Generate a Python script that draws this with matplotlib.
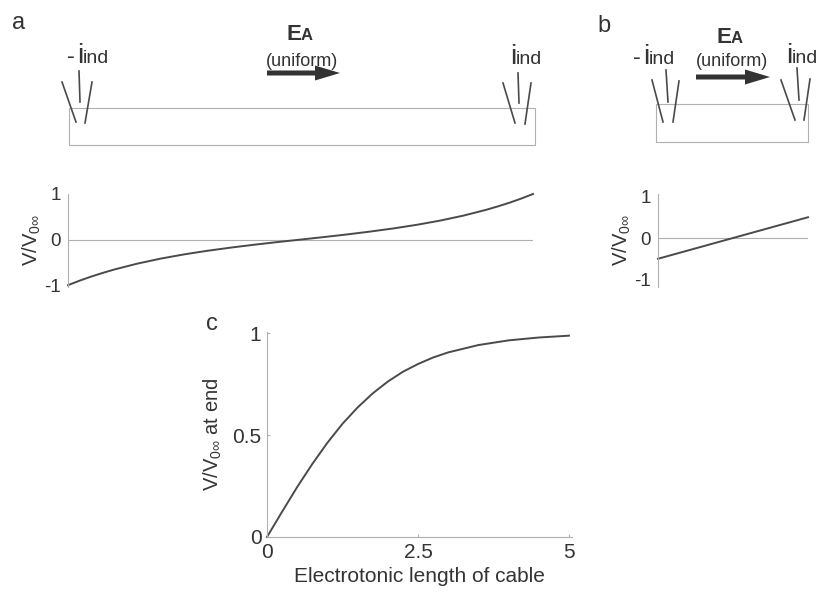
import matplotlib
matplotlib.use("Agg")
import matplotlib.pyplot as plt
from matplotlib.patches import FancyArrow, Rectangle

plt.rcParams['font.family'] = ['Liberation Sans', 'DejaVu Sans']
plt.rcParams['mathtext.fontset'] = 'custom'
plt.rcParams['mathtext.rm'] = 'Liberation Sans'
plt.rcParams['mathtext.it'] = 'Liberation Sans'

# potential along the cable (position as fraction of cable length)
pos_a = [0, 0.025, 0.05, 0.075, 0.1, 0.15, 0.2, 0.25, 0.3, 0.35, 0.4, 0.45, 0.5,
         0.55, 0.6, 0.65, 0.7, 0.75, 0.8, 0.85, 0.9, 0.925, 0.95, 0.975, 1.0]
v_a = [-1.0, -0.901, -0.811, -0.730, -0.655, -0.525, -0.416, -0.324, -0.245, -0.176,
       -0.113, -0.055, 0.0, 0.055, 0.113, 0.176, 0.245, 0.324, 0.416, 0.525, 0.655,
       0.730, 0.811, 0.901, 1.0]

pos_b = [0, 0.25, 0.5, 0.75, 1.0]
v_b = [-0.5, -0.25, 0.0, 0.25, 0.5]

# end potential vs electrotonic length
len_c = [0, 0.25, 0.5, 0.75, 1, 1.25, 1.5, 1.75, 2, 2.25, 2.5, 2.75, 3, 3.5, 4, 4.5, 5]
v_c = [0, 0.124, 0.245, 0.358, 0.462, 0.555, 0.635, 0.704, 0.762, 0.810, 0.848,
       0.880, 0.905, 0.941, 0.964, 0.978, 0.987]

W, H = 822, 592
TXT = '#333333'
LINE = '#4a4a4a'
THIN = '#b0b0b0'
ylab = r'V/V$_{0\infty}$'

fig = plt.figure(figsize=(W / 100, H / 100), dpi=100)


def px_axes(left, top, right, bottom):
    return fig.add_axes([left / W, 1 - bottom / H, (right - left) / W, (bottom - top) / H])


def style(ax):
    for s in ['top', 'right', 'bottom']:
        ax.spines[s].set_visible(False)
    ax.spines['left'].set_color(THIN)
    ax.spines['left'].set_linewidth(0.8)
    ax.tick_params(colors=TXT, labelsize=13.5, length=0, pad=5)
    ax.set_xticks([])


# panel a trace
ax_a = px_axes(68, 194, 533, 287)
style(ax_a)
ax_a.axhline(0, color=THIN, lw=0.8)
ax_a.plot(pos_a, v_a, color=LINE, lw=1.4, clip_on=False)
ax_a.set_xlim(0, 1)
ax_a.set_ylim(-1.04, 1.0)
ax_a.set_yticks([-1, 0, 1])
ax_a.set_yticklabels(['-1', '0', '1'])
ax_a.set_ylabel(ylab, fontsize=14.5, color=TXT, labelpad=1)

# panel b trace
ax_b = px_axes(658, 194, 808, 287)
style(ax_b)
ax_b.axhline(0, color=THIN, lw=0.8)
ax_b.plot(pos_b, v_b, color=LINE, lw=1.4, clip_on=False)
ax_b.set_xlim(0, 1)
ax_b.set_ylim(-1.18, 1.06)
ax_b.set_yticks([-1, 0, 1])
ax_b.set_yticklabels(['-1', '0', '1'])
ax_b.set_ylabel(ylab, fontsize=14.5, color=TXT, labelpad=1)

# panel c
ax_c = px_axes(267, 332, 572, 537)
for s in ['top', 'right']:
    ax_c.spines[s].set_visible(False)
for s in ['left', 'bottom']:
    ax_c.spines[s].set_color(THIN)
    ax_c.spines[s].set_linewidth(0.8)
ax_c.plot(len_c, v_c, color=LINE, lw=1.4, clip_on=False)
ax_c.set_xlim(0, 5.05)
ax_c.set_ylim(0, 1.005)
ax_c.set_xticks([0, 2.5, 5])
ax_c.set_xticklabels(['0', '2.5', '5'])
ax_c.set_yticks([0, 0.5, 1])
ax_c.set_yticklabels(['0', '0.5', '1'])
ax_c.tick_params(colors=TXT, labelsize=15, direction='in', length=2, width=0.8, pad=4)
ax_c.tick_params(axis='x', pad=4)
ax_c.tick_params(color=THIN, which='both')
ax_c.set_xlabel('Electrotonic length of cable', fontsize=15, color=TXT, labelpad=4)
ax_c.set_ylabel(r'V/V$_{0\infty}$ at end', fontsize=14.5, color=TXT, labelpad=6)

# schematic overlay in pixel units
ov = fig.add_axes([0, 0, 1, 1], zorder=-1)
ov.set_xlim(0, W)
ov.set_ylim(H, 0)
ov.axis('off')

ov.add_patch(Rectangle((69, 108), 466, 37, fill=False, ec=THIN, lw=0.8))
ov.add_patch(Rectangle((656, 104), 152, 38, fill=False, ec=THIN, lw=0.8))

electrodes = [
    [((62, 82), (76, 122)), ((79, 71), (80, 102)), ((92, 82), (85, 123))],
    [((503, 83), (515, 123)), ((518, 73), (519, 103)), ((531, 83), (525, 124))],
    [((652, 80), (663, 122)), ((666, 70), (668, 102)), ((679, 81), (673, 122))],
    [((781, 80), (795, 120)), ((797, 68), (799, 100)), ((810, 79), (804, 120))],
]
for group in electrodes:
    for (x0, y0), (x1, y1) in group:
        ov.plot([x0, x1], [y0, y1], color=LINE, lw=1.2)


def current_label(x, y, neg):
    if neg:
        ov.text(x - 10.5, y, '-', fontsize=17, color=TXT, ha='left', va='baseline')
    ov.text(x, y, 'i', fontsize=20, color=TXT, ha='left', va='baseline')
    ov.text(x + 6.2, y, 'ind', fontsize=14, color=TXT, ha='left', va='baseline')


current_label(77, 63, True)
current_label(510, 64, False)
current_label(643, 64, True)
current_label(786, 63, False)


def field_label(x, y_e, y_u, xa0, xa1, ya):
    ov.text(x - 15, y_e, 'E', fontsize=16, fontweight='bold', color=TXT,
            ha='left', va='baseline')
    ov.text(x, y_e, 'A', fontsize=12, fontweight='bold', color=TXT,
            ha='left', va='baseline')
    ov.text(x + 1, y_u, '(uniform)', fontsize=13, color=TXT, ha='center', va='center')
    ov.add_patch(FancyArrow(xa0, ya, xa1 - xa0, 0, width=5, head_width=15,
                            head_length=25, length_includes_head=True,
                            color='#333333', lw=0))


field_label(301, 40, 61, 267, 340, 73)
field_label(731, 43, 61, 696, 770, 77)

ov.text(12, 29, 'a', fontsize=17, color=TXT, ha='left', va='baseline')
ov.text(597, 32, 'b', fontsize=17, color=TXT, ha='left', va='baseline')
ov.text(206, 330, 'c', fontsize=17, color=TXT, ha='left', va='baseline')

fig.savefig('out.png', dpi=100)
